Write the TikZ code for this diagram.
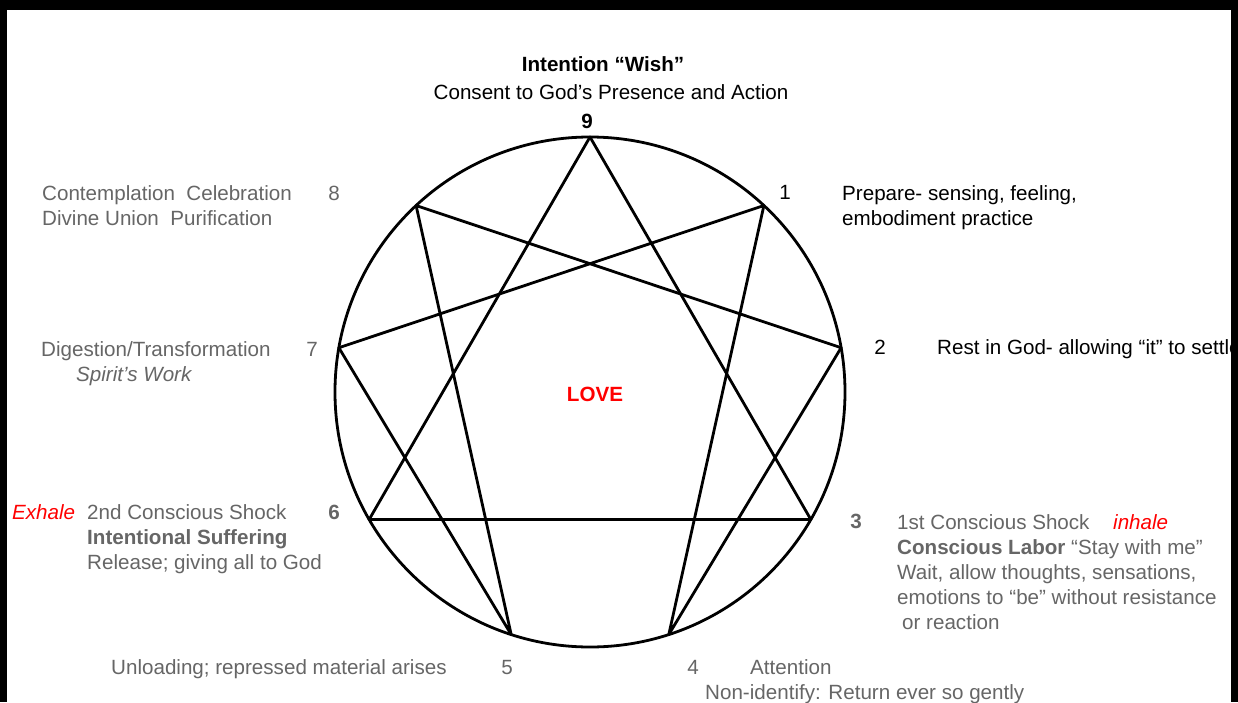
\documentclass[tikz,border=0pt]{standalone}
\usepackage{fontspec}
\setmainfont{Liberation Sans}
\usepackage{xcolor}
\definecolor{gristxt}{HTML}{666666}
\definecolor{rojo}{HTML}{FF0000}

\begin{document}
\begin{tikzpicture}[x=1pt,y=1pt,
  txt/.style={anchor=base west,inner sep=0pt,align=left,font=\fontsize{20.6}{25}\selectfont},
  gtxt/.style={txt,text=gristxt},
  num/.style={anchor=base,inner sep=0pt,font=\fontsize{20.6}{25}\selectfont},
  gnum/.style={num,text=gristxt},
  figura/.style={line width=2.8pt,line join=round}]
\useasboundingbox[fill=white] (-590,-310) rectangle (648,392);

% circle and the nine points
\draw[figura] (0,0) circle (255);
\foreach \n/\a in {9/90,1/47,2/10,3/-30,4/-72,5/-108,6/-150,7/170,8/133}
  \coordinate (p\n) at (\a:255);
\draw[figura] (p9) -- (p3) -- (p6) -- cycle;
\draw[figura] (p1) -- (p4) -- (p2) -- (p8) -- (p5) -- (p7) -- cycle;
\node[num,text=rojo,font=\fontsize{20.6}{25}\selectfont\bfseries] (love) at (5,-9) {LOVE};

% top
\node[num,font=\fontsize{20.6}{25}\selectfont\bfseries] (deseo) at (13,320) {Intention “Wish”};
\node[num] (consent) at (21,292) {Consent to God’s Presence and Action};
\node[num,font=\fontsize{20.6}{25}\selectfont\bfseries] (n9) at (-3,263) {9};

% right side (multi-line texts sit on the baseline of their last line)
\node[num] (n1) at (195,193) {1};
\node[txt] (t1) at (252,167) {Prepare- sensing, feeling,\\embodiment practice};
\node[num] (n2) at (290,38) {2};
\node[txt] (t2) at (347,38) {Rest in God- allowing “it” to settle};
\node[gnum,font=\fontsize{20.6}{25}\selectfont\bfseries] (n3) at (266,-136) {3};
\node[gtxt] (t3) at (307,-237) {1st Conscious Shock\\
  \textbf{Conscious Labor} “Stay with me”\\
  Wait, allow thoughts, sensations,\\
  emotions to “be” without resistance\\
  \hspace*{5pt}or reaction};
\node[txt,text=rojo,font=\fontsize{20.6}{25}\selectfont\itshape] (inhala) at (523,-137) {inhale};

% bottom
\node[gnum] (n4) at (103,-282) {4};
\node[gtxt] (t4) at (160,-282) {Attention};
\node[gtxt] (t4b) at (115,-307) {Non-identify: Return ever so gently};
\node[gnum] (n5) at (-83,-282) {5};
\node[gtxt] (t5) at (-479,-282) {Unloading; repressed material arises};

% left side
\node[gnum,font=\fontsize{20.6}{25}\selectfont\bfseries] (n6) at (-256,-127) {6};
\node[gtxt] (t6) at (-503,-177) {2nd Conscious Shock\\
  \textbf{Intentional Suffering}\\
  Release; giving all to God};
\node[txt,text=rojo,font=\fontsize{20.6}{25}\selectfont\itshape] (exhala) at (-578,-127) {Exhale};
\node[gnum] (n7) at (-278,36) {7};
\node[gtxt] (t7) at (-549,11) {Digestion/Transformation\\
  \hspace*{35pt}\textit{Spirit’s Work}};
\node[gnum] (n8) at (-256,192) {8};
\node[gtxt] (t8) at (-548,167) {Contemplation\ \ Celebration\\Divine Union\ \ Purification};

% black frame
\fill[black] (-590,382) rectangle (648,392);
\fill[black] (-590,-310) rectangle (-583,392);
\fill[black] (641,-310) rectangle (648,392);
\end{tikzpicture}
\end{document}
